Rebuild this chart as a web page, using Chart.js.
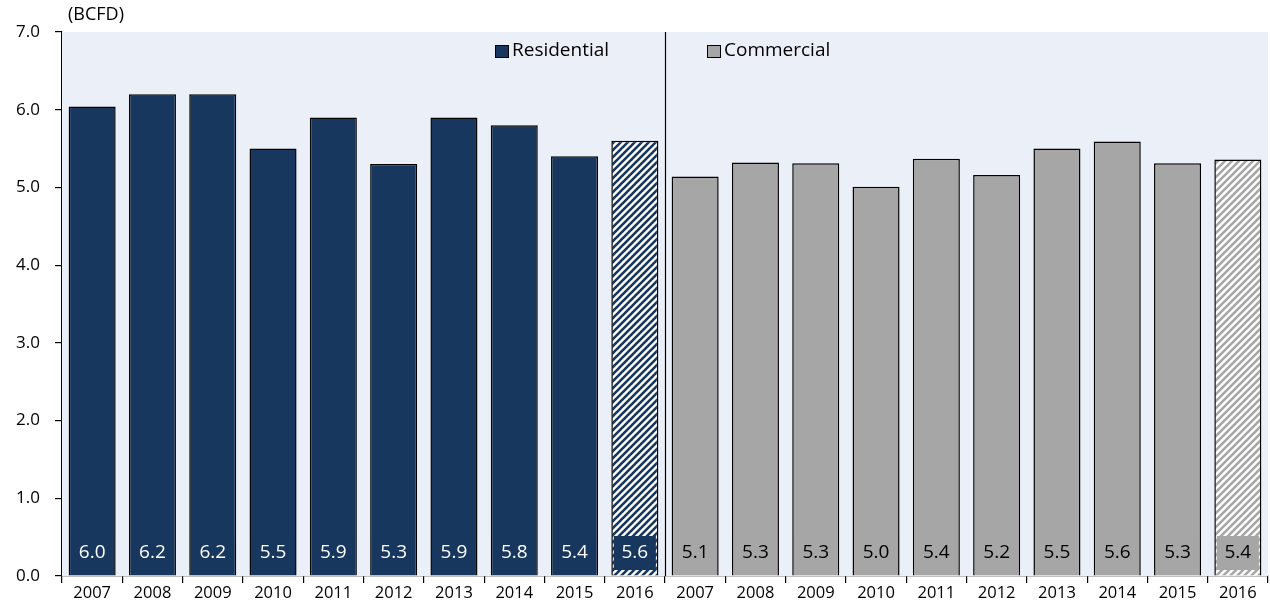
<!DOCTYPE html>
<html>
<head>
<meta charset="utf-8">
<script src="https://cdn.jsdelivr.net/npm/chart.js@4"></script>
<style>
  html, body { margin: 0; padding: 0; background: #fff; }
  #wrap { width: 1270px; height: 605px; }
</style>
</head>
<body>
<div id="wrap"><canvas id="myChart"></canvas></div>
<script>
// years repeat for both sectors
var years = ['2007', '2008', '2009', '2010', '2011', '2012', '2013', '2014', '2015', '2016'];
var residential = [6.04, 6.2, 6.2, 5.5, 5.9, 5.3, 5.9, 5.8, 5.4, 5.6];
var commercial = [5.14, 5.32, 5.31, 5.01, 5.37, 5.16, 5.5, 5.59, 5.31, 5.36];
var yTicks = [0, 1, 2, 3, 4, 5, 6, 7];
var unitLabel = '(BCFD)';
var projectedYear = '2016'; // drawn hatched

var NAVY = '#17375E';
var GREY = '#A6A6A6';
var BG = '#EBF0F8';
var FONT = "'Open Sans', 'Liberation Sans', sans-serif";

var labels = years.concat(years);
var blanks = years.map(function () { return null; });

// diagonal stripes for the estimate bars
function stripes(color) {
    var s = 7;
    var c = document.createElement('canvas');
    c.width = s; c.height = s;
    var g = c.getContext('2d');
    g.fillStyle = '#fff';
    g.fillRect(0, 0, s, s);
    g.strokeStyle = color;
    g.lineWidth = 2.6;
    g.beginPath();
    g.moveTo(-1, s + 1); g.lineTo(s + 1, -1);
    g.moveTo(-s / 2 - 1, s / 2 + 1); g.lineTo(s / 2 + 1, -s / 2 - 1);
    g.moveTo(s / 2 - 1, s * 1.5 + 1); g.lineTo(s * 1.5 + 1, s / 2 - 1);
    g.stroke();
    return g.createPattern(c, 'repeat');
}

function fills(solid, offset) {
    var pat = stripes(solid);
    return labels.map(function (y, i) {
        if (i - offset >= 0 && i - offset < years.length && y === projectedYear) return pat;
        return solid;
    });
}

var plotBg = {
    id: 'plotBg',
    beforeDatasetsDraw: function (chart) {
        var a = chart.chartArea, ctx = chart.ctx;
        ctx.save();
        ctx.fillStyle = BG;
        ctx.fillRect(a.left, a.top, a.right - a.left, a.bottom - a.top);
        ctx.restore();
    }
};

var extras = {
    id: 'extras',
    afterDatasetsDraw: function (chart) {
        var a = chart.chartArea, ctx = chart.ctx;
        var x = chart.scales.x;
        ctx.save();

        // divider between the two sectors
        var mid = Math.round((x.getPixelForValue(years.length - 1) + x.getPixelForValue(years.length)) / 2) + 0.5;
        ctx.strokeStyle = '#000';
        ctx.lineWidth = 1.2;
        ctx.beginPath();
        ctx.moveTo(mid, a.top);
        ctx.lineTo(mid, a.bottom);
        ctx.stroke();

        // value boxes at the foot of each bar
        ctx.font = '19px ' + FONT;
        ctx.textAlign = 'center';
        ctx.textBaseline = 'middle';
        chart.data.datasets.forEach(function (ds, di) {
            var meta = chart.getDatasetMeta(di);
            meta.data.forEach(function (bar, i) {
                var v = ds.data[i];
                if (v === null) return;
                var w = bar.width;
                ctx.fillStyle = ds.solid;
                ctx.fillRect(bar.x - w / 2 + 2.5, a.bottom - 40, w - 5, 34);
                ctx.fillStyle = ds.textColor;
                ctx.fillText(v.toFixed(1), bar.x, a.bottom - 23);
            });
        });

        // legend inside the plot
        ctx.font = '19px ' + FONT;
        ctx.textAlign = 'left';
        var items = [[495, chart.data.datasets[0]], [707, chart.data.datasets[1]]];
        items.forEach(function (it) {
            var lx = it[0], ds = it[1];
            ctx.fillStyle = ds.solid;
            ctx.fillRect(lx + 0.5, 45.5, 13, 12);
            ctx.strokeStyle = '#000';
            ctx.lineWidth = 1;
            ctx.strokeRect(lx + 0.5, 45.5, 13, 12);
            ctx.fillStyle = '#000';
            ctx.fillText(ds.label, lx + 17, 51);
        });

        // unit label
        ctx.font = '18px ' + FONT;
        ctx.fillText(unitLabel, a.left + 6, 15);
        ctx.restore();
    }
};

var ctx = document.getElementById('myChart').getContext('2d');

var myChart = new Chart(ctx, {
    type: 'bar',
    data: {
        labels: labels,
        datasets: [{
            label: 'Residential',
            data: residential.concat(blanks),
            backgroundColor: fills(NAVY, 0),
            solid: NAVY,
            textColor: '#fff',
            borderColor: '#000',
            borderWidth: 1.5,
            borderSkipped: 'bottom',
            grouped: false,
            barPercentage: 0.78,
            categoryPercentage: 1
        }, {
            label: 'Commercial',
            data: blanks.concat(commercial),
            backgroundColor: fills(GREY, years.length),
            solid: GREY,
            textColor: '#000',
            borderColor: '#000',
            borderWidth: 1.5,
            borderSkipped: 'bottom',
            grouped: false,
            barPercentage: 0.78,
            categoryPercentage: 1
        }]
    },
    options: {
        responsive: true,
        maintainAspectRatio: false,
        animation: false,
        layout: { padding: { top: 32, right: 2, left: 0, bottom: 0 } },
        plugins: {
            legend: { display: false },
            tooltip: { enabled: false }
        },
        scales: {
            x: {
                grid: { offset: true, drawOnChartArea: false, tickLength: 7, color: '#000', lineWidth: 1.2 },
                border: { color: '#000', width: 1.2 },
                ticks: { color: '#000', font: { family: FONT, size: 16.5 }, padding: 0, maxRotation: 0, autoSkip: false },
                afterFit: function (s) { s.height = 29; }
            },
            y: {
                min: yTicks[0],
                max: yTicks[yTicks.length - 1],
                afterBuildTicks: function (s) { s.ticks = yTicks.map(function (v) { return { value: v }; }); },
                grid: { drawOnChartArea: false, tickLength: 7, color: '#000', lineWidth: 1.2 },
                border: { color: '#000', width: 1.2 },
                ticks: {
                    color: '#000',
                    font: { family: FONT, size: 17 },
                    padding: 15,
                    callback: function (v) { return Number(v).toFixed(1); }
                },
                afterFit: function (s) { s.width = 62; }
            }
        }
    },
    plugins: [plotBg, extras]
});
</script>
</body>
</html>
